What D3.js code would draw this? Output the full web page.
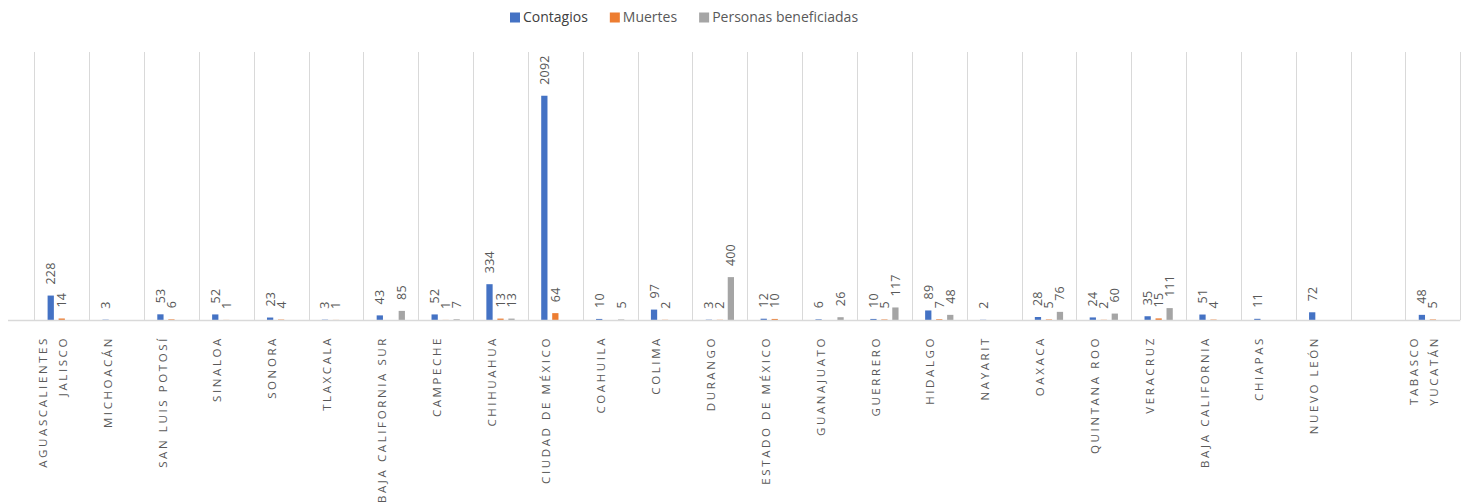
<!DOCTYPE html>
<html>
<head>
<meta charset="utf-8">
<script src="https://cdn.jsdelivr.net/npm/d3@7"></script>
<style>
  body { margin: 0; background: #fff; }
  #chart { width: 1465px; height: 502px; }
</style>
</head>
<body>
<div id="chart"></div>
<script>
// Category names ("\n" = wrapped second line, "" = empty slot)
const categories = [
    "AGUASCALIENTES\nJALISCO", "MICHOACÁN", "SAN LUIS POTOSÍ", "SINALOA", "SONORA",
    "TLAXCALA", "BAJA CALIFORNIA SUR", "CAMPECHE", "CHIHUAHUA", "CIUDAD DE MÉXICO",
    "COAHUILA", "COLIMA", "DURANGO", "ESTADO DE MÉXICO", "GUANAJUATO",
    "GUERRERO", "HIDALGO", "NAYARIT", "OAXACA", "QUINTANA ROO",
    "VERACRUZ", "BAJA CALIFORNIA", "CHIAPAS", "NUEVO LEÓN", "", "TABASCO\nYUCATÁN"
];

const seriesNames = ["Contagios", "Muertes", "Personas beneficiadas"];
const seriesColors = ["#4472C4", "#ED7D31", "#A5A5A5"];

// null = no value in the sheet
const contagios = [228, 3, 53, 52, 23, 3, 43, 52, 334, 2092, 10, 97, 3, 12, 6, 10, 89, 2, 28, 24, 35, 51, 11, 72, null, 48];
const muertes = [14, null, 6, 1, 4, 1, null, 1, 13, 64, null, 2, 2, 10, null, 5, 7, null, 5, 2, 15, 4, null, null, null, 5];
const personas = [null, null, null, null, null, null, 85, 7, 13, null, 5, null, 400, null, 26, 117, 48, null, 76, 60, 111, null, null, null, null, null];

const yMax = 2500;

const seriesValues = [contagios, muertes, personas];

const width = 1465, height = 502;
const plot = { left: 34.3, right: 1460.3, top: 52, bottom: 320, axisStart: 8 };

const svg = d3.select("#chart")
    .append("svg")
    .attr("width", width)
    .attr("height", height)
    .style("font-family", "'Open Sans', 'Liberation Sans', sans-serif");

// Scales
const x0 = d3.scaleBand()
    .domain(categories)
    .range([plot.left, plot.right])
    .paddingInner(0)
    .paddingOuter(0);

const x1 = d3.scaleBand()
    .domain(seriesNames)
    .range([0, x0.bandwidth()])
    .paddingInner(0.43)
    .paddingOuter(1.21);

const y = d3.scaleLinear()
    .domain([0, yMax])
    .range([plot.bottom, plot.top]);

// Vertical gridlines at category boundaries
const bounds = categories.map((c) => x0(c)).concat([plot.right]);
svg.append("g")
    .selectAll("line")
    .data(bounds)
    .enter()
    .append("line")
    .attr("x1", (d) => Math.round(d) + 0.5)
    .attr("x2", (d) => Math.round(d) + 0.5)
    .attr("y1", plot.top)
    .attr("y2", plot.bottom)
    .attr("stroke", "#D9D9D9")
    .attr("stroke-width", 1);

// Bars
const rows = [];
categories.forEach((c, i) => {
    seriesNames.forEach((s, k) => {
        const v = seriesValues[k][i];
        if (v !== null) rows.push({ cat: c, series: s, value: v, color: seriesColors[k] });
    });
});

svg.append("g")
    .selectAll("rect")
    .data(rows)
    .enter()
    .append("rect")
    .attr("x", (d) => x0(d.cat) + x1(d.series))
    .attr("y", (d) => y(d.value))
    .attr("width", x1.bandwidth())
    .attr("height", (d) => plot.bottom - y(d.value))
    .attr("fill", (d) => d.color);

// Category axis line
svg.append("line")
    .attr("x1", plot.axisStart)
    .attr("x2", plot.right)
    .attr("y1", plot.bottom + 0.5)
    .attr("y2", plot.bottom + 0.5)
    .attr("stroke", "#D9D9D9")
    .attr("stroke-width", 1.5);

// Data labels (rotated, outside end)
svg.append("g")
    .selectAll("text")
    .data(rows)
    .enter()
    .append("text")
    .attr("transform", (d) => {
        const cx = x0(d.cat) + x1(d.series) + x1.bandwidth() / 2;
        return `translate(${cx},${y(d.value) - 11}) rotate(-90)`;
    })
    .attr("text-anchor", "start")
    .attr("dy", "0.36em")
    .style("font-size", "12.5px")
    .style("letter-spacing", "0.2px")
    .attr("fill", "#595959")
    .text((d) => d.value);

// Category labels (rotated, wrapped names as separate lines)
const catLabels = svg.append("g");
categories.forEach((c) => {
    if (!c) return;
    const lines = c.split("\n");
    const cx = x0(c) + x0.bandwidth() / 2 - 9;
    lines.forEach((line, j) => {
        const off = (j - (lines.length - 1) / 2) * 20;
        catLabels.append("text")
            .attr("transform", `translate(${cx + off},336) rotate(-90)`)
            .attr("text-anchor", "end")
            .attr("dy", "0.36em")
            .style("font-size", "11.5px")
            .style("letter-spacing", "2.6px")
            .attr("fill", "#595959")
            .text(line);
    });
});

// Legend
const legend = svg.append("g").attr("transform", "translate(510,0)");
let lx = 0;
seriesNames.forEach((s, k) => {
    legend.append("rect")
        .attr("x", lx)
        .attr("y", 12.5)
        .attr("width", 10)
        .attr("height", 10)
        .attr("fill", seriesColors[k]);
    const t = legend.append("text")
        .attr("x", lx + 13)
        .attr("y", 22)
        .style("font-size", "14px")
        .attr("fill", k === 0 ? "#404040" : "#595959")
        .text(s);
    lx += 13 + t.node().getComputedTextLength() + 22;
});
</script>
</body>
</html>
